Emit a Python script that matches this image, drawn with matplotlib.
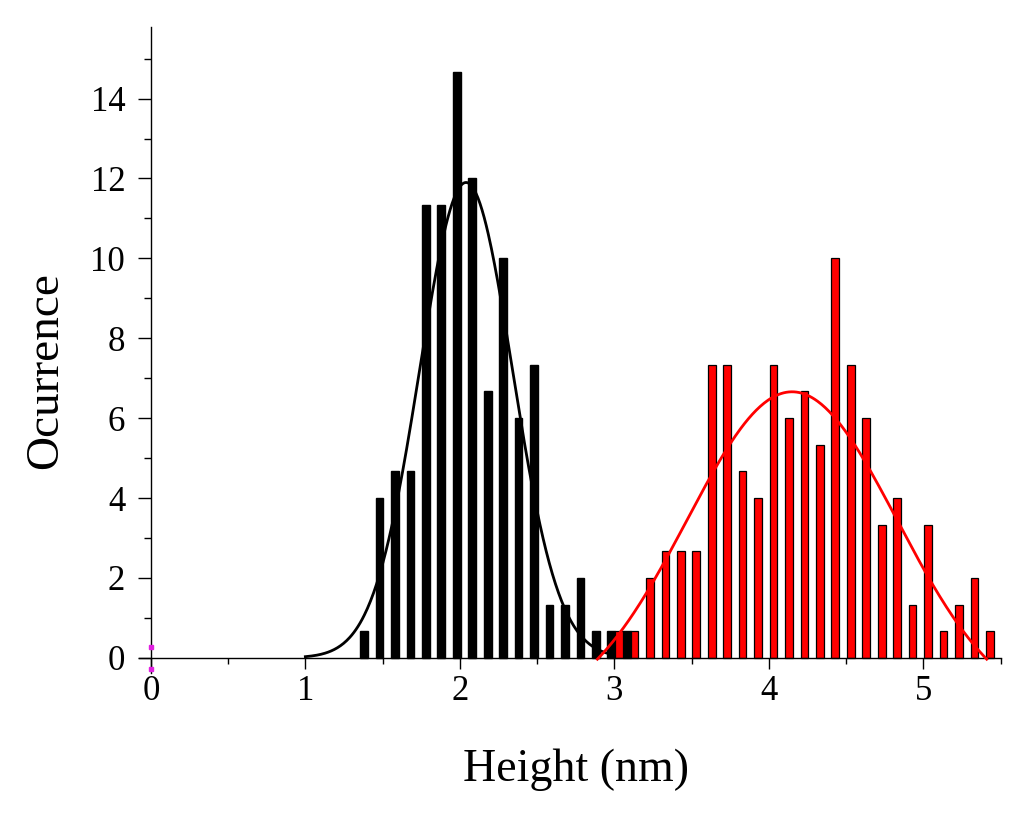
import numpy as np
import matplotlib
matplotlib.use('Agg')
from matplotlib import pyplot as plt
from matplotlib.ticker import MultipleLocator

plt.rcParams['font.family'] = ['Liberation Serif', 'DejaVu Serif']

# histogram of the first sample (black)
black_x = [1.38, 1.48, 1.58, 1.68, 1.78, 1.88, 1.98, 2.08, 2.18, 2.28,
           2.38, 2.48, 2.58, 2.68, 2.78, 2.88, 2.98, 3.08]
black_y = [0.67, 4.0, 4.67, 4.67, 11.33, 11.33, 14.67, 12.0, 6.67, 10.0,
           6.0, 7.33, 1.33, 1.33, 2.0, 0.67, 0.67, 0.67]

# histogram of the second sample (red)
red_x = [3.03, 3.13, 3.23, 3.33, 3.43, 3.53, 3.63, 3.73, 3.83, 3.93,
         4.03, 4.13, 4.23, 4.33, 4.43, 4.53, 4.63, 4.73, 4.83, 4.93,
         5.03, 5.13, 5.23, 5.33, 5.43]
red_y = [0.67, 0.67, 2.0, 2.67, 2.67, 2.67, 7.33, 7.33, 4.67, 4.0,
         7.33, 6.0, 6.67, 5.33, 10.0, 7.33, 6.0, 3.33, 4.0, 1.33,
         3.33, 0.67, 1.33, 2.0, 0.67]

# gauss fit parameters: offset, height, centre, sigma, x-range
black_fit = dict(y0=0.0, h=11.9, xc=2.04, s=0.30, x0=1.0, x1=3.0)
red_fit = dict(y0=-1.5, h=8.16, xc=4.15, s=0.68, x0=2.89, x1=5.41)


def gauss(p):
	xs = np.linspace(p['x0'], p['x1'], 300)
	return xs, p['y0'] + p['h'] * np.exp(-(xs - p['xc'])**2 / (2 * p['s']**2))


fig = plt.figure(figsize=(10.24, 8.14), dpi=100)
ax = fig.add_axes([0.136, 0.1732, 0.8412, 0.794])

ax.bar(black_x, black_y, width=0.05, color='black', edgecolor='black',
	linewidth=1.0, zorder=2)
ax.bar(red_x, red_y, width=0.05, color='#ff0000', edgecolor='black',
	linewidth=0.9, zorder=2)

xs, ys = gauss(black_fit)
ax.plot(xs, ys, color='black', lw=2.0, zorder=3)
xs, ys = gauss(red_fit)
ax.plot(xs, ys, color='#ff0000', lw=2.0, zorder=3)

# the two little markers on the origin
ax.plot([0, 0], [0.28, -0.28], ls='none', marker='s', ms=2.5,
	color='#e020e0', clip_on=False, zorder=4)

ax.set_xlim(-0.075, 5.5)
ax.set_ylim(-0.38, 15.8)

for side in ['top', 'right']:
	ax.spines[side].set_visible(False)
ax.spines['left'].set_position(('data', 0))
ax.spines['bottom'].set_position(('data', 0))
for side in ['left', 'bottom']:
	ax.spines[side].set_linewidth(1.0)

ax.xaxis.set_major_locator(MultipleLocator(1))
ax.xaxis.set_minor_locator(MultipleLocator(0.5))
ax.yaxis.set_major_locator(MultipleLocator(2))
ax.yaxis.set_minor_locator(MultipleLocator(1))
ax.set_yticks(np.arange(0, 15, 2))

ax.tick_params(axis='x', which='major', direction='out', length=8, width=1,
	labelsize=25, pad=4)
ax.tick_params(axis='x', which='minor', direction='out', length=4, width=1)
ax.tick_params(axis='y', which='major', direction='out', length=9.5, width=1,
	labelsize=25, pad=9)
ax.tick_params(axis='y', which='minor', direction='out', length=5, width=1)

fig.text(0.5625, 0.054, 'Height (nm)', fontsize=33, ha='center', va='center')
fig.text(0.045, 0.545, 'Ocurrence', fontsize=34, ha='center', va='center',
	rotation=90)

fig.savefig('out.png', dpi=100)
